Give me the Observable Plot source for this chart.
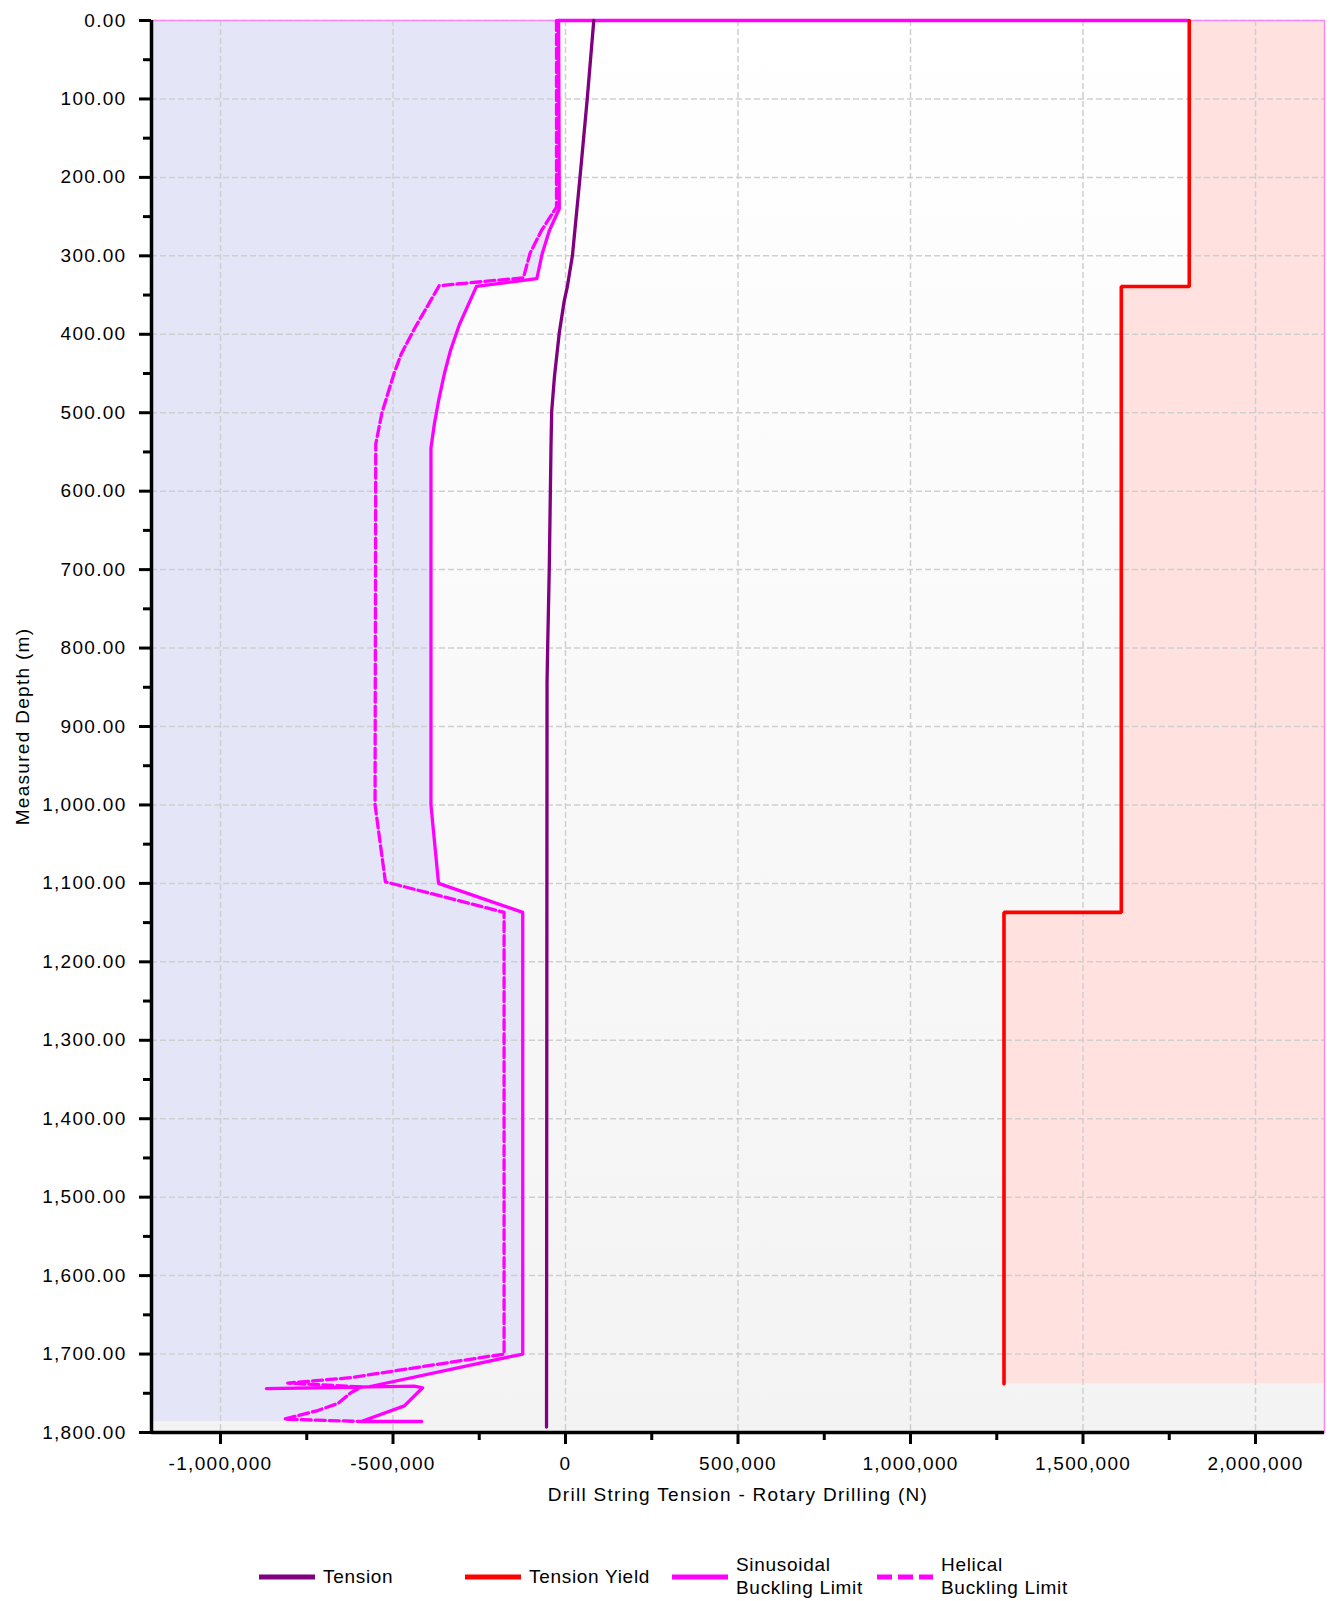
<!DOCTYPE html>
<html>
<head>
<meta charset="utf-8">
<script src="https://cdn.jsdelivr.net/npm/d3@7"></script>
<script src="https://cdn.jsdelivr.net/npm/@observablehq/plot@0.6"></script>
<style>
  html, body { margin: 0; padding: 0; background: #ffffff; }
  #chart { width: 1335px; }
  #legend { position: relative; width: 1335px; height: 81px; font-family: "Liberation Sans", Arial, sans-serif; font-size: 19px; letter-spacing: 0.7px; color: #000; }
  .sw { position: absolute; top: 52px; }
  .lt { position: absolute; line-height: 23px; white-space: nowrap; }
</style>
</head>
<body>
<div id="chart"></div>
<div id="legend"></div>
<script>
// ---- axis ranges & ticks ----
const xDomain = [-1200000, 2200000];
const yDomain = [0, 1800];
const xMajorTicks = [-1000000, -500000, 0, 500000, 1000000, 1500000, 2000000];
const xMinorTicks = [-750000, -250000, 250000, 750000, 1250000, 1750000];
const yMajorTicks = [0, 100, 200, 300, 400, 500, 600, 700, 800, 900, 1000, 1100, 1200, 1300, 1400, 1500, 1600, 1700, 1800];
const yMinorTicks = [50, 150, 250, 350, 450, 550, 650, 750, 850, 950, 1050, 1150, 1250, 1350, 1450, 1550, 1650, 1750];

// ---- series (measured depth in m, force in N) ----
const tensionDepth = [0, 100, 200, 300, 340, 357, 398, 454, 498, 542, 698, 795, 844, 1793];
const tensionForce = [82000, 63000, 42000, 20000, 5000, -3500, -18000, -32000, -40000, -42000, -47000, -51500, -53500, -55000];

const yieldDepth = [0, 339, 339, 1137, 1137, 1738];
const yieldForce = [1808000, 1808000, 1611000, 1611000, 1271000, 1271000];

const sinDepth = [0, 240, 268, 298, 329, 339, 387, 420, 450, 485, 514, 545, 1000, 1100, 1137, 1700, 1742, 1744, 1741, 1743, 1766, 1786, 1786];
const sinForce = [-20000, -18000, -47000, -68000, -83000, -258000, -307000, -333000, -351000, -368000, -380000, -390000, -390000, -368000, -124000, -124000, -573000, -867000, -438000, -414000, -467000, -592000, -417000];

const helDepth = [0, 238, 246, 268, 297, 328, 338, 393, 425, 450, 500, 540, 1000, 1098, 1137, 1700, 1730, 1737, 1742, 1749, 1763, 1772, 1783, 1786];
const helForce = [-26000, -26000, -38000, -70000, -103000, -122000, -366000, -438000, -476000, -497000, -532000, -550000, -552000, -522000, -178000, -178000, -621000, -805000, -592000, -621000, -660000, -718000, -815000, -592000];

const xLabel = "Drill String Tension - Rotary Drilling (N)";
const yLabel = "Measured Depth (m)";
const legendItems = [
  {name: "Tension", key: "tension"},
  {name: "Tension Yield", key: "yield"},
  {name: "Sinusoidal\nBuckling Limit", key: "sin"},
  {name: "Helical\nBuckling Limit", key: "hel"}
];

// ---- tables ----
const zip = (d, f) => d.map((v, i) => ({depth: v, force: f[i]}));
const tension = zip(tensionDepth, tensionForce);
const tYield = zip(yieldDepth, yieldForce);
const sinus = zip(sinDepth, sinForce);
const helical = zip(helDepth, helForce);

const fmtX = v => v.toLocaleString("en-US");
const fmtY = v => v.toLocaleString("en-US", {minimumFractionDigits: 2, maximumFractionDigits: 2});

const C = {tension: "#800080", yield: "#ff0000", sin: "#ff00ff", hel: "#ff00ff"};

const svg = Plot.plot({
  width: 1335,
  height: 1520,
  marginLeft: 151,
  marginRight: 11,
  marginTop: 20,
  marginBottom: 88,
  x: {domain: xDomain, label: null},
  y: {domain: yDomain, reverse: true, label: null},
  style: {fontFamily: "'Liberation Sans', Arial, sans-serif", fontSize: "19px", letterSpacing: "1.3px", background: "#ffffff", color: "#000000", overflow: "visible"},
  marks: [
    Plot.frame({fill: "url(#bgGrad)"}),
    Plot.areaX(sinus, {y: "depth", x1: () => xDomain[0], x2: "force", fill: "#e5e5f8"}),
    Plot.areaX(tYield, {y: "depth", x1: "force", x2: () => xDomain[1], fill: "#ffe2e0"}),
    Plot.gridX({ticks: xMajorTicks, stroke: "#cfcfcf", strokeOpacity: 1, strokeWidth: 1.5, strokeDasharray: "6,3"}),
    Plot.gridY({ticks: yMajorTicks, stroke: "#cfcfcf", strokeOpacity: 1, strokeWidth: 1.5, strokeDasharray: "6,3"}),
    Plot.frame({stroke: "#f58af5", strokeWidth: 1.5}),
    Plot.ruleY([0], {x1: () => sinForce[0], x2: () => yieldForce[0], stroke: C.sin, strokeWidth: 3.3}),
    Plot.line(helical, {x: "force", y: "depth", stroke: C.hel, strokeWidth: 3.3, strokeDasharray: "10,4"}),
    Plot.line(sinus, {x: "force", y: "depth", stroke: C.sin, strokeWidth: 3.3}),
    Plot.line(tYield, {x: "force", y: "depth", stroke: C.yield, strokeWidth: 3.6, strokeLinejoin: "miter"}),
    Plot.line(tension, {x: "force", y: "depth", stroke: C.tension, strokeWidth: 3.3}),
    Plot.ruleX([xDomain[0]], {stroke: "#000", strokeWidth: 3.5}),
    Plot.ruleY([yDomain[1]], {stroke: "#000", strokeWidth: 3.5}),
    Plot.axisX({ticks: xMajorTicks, tickSize: 12, tickPadding: 12, tickFormat: fmtX, strokeWidth: 3, label: xLabel, labelAnchor: "center", labelOffset: 68, labelArrow: "none"}),
    Plot.axisX({ticks: xMinorTicks, tickSize: 8, tickFormat: () => "", strokeWidth: 3, label: null}),
    Plot.axisY({ticks: yMajorTicks, tickSize: 12, tickPadding: 13, tickFormat: fmtY, strokeWidth: 3, label: yLabel, labelAnchor: "center", labelOffset: 136, labelArrow: "none"}),
    Plot.axisY({ticks: yMinorTicks, tickSize: 8, tickFormat: () => "", strokeWidth: 3, label: null})
  ]
});

const ns = "http://www.w3.org/2000/svg";
const defs = document.createElementNS(ns, "defs");
defs.innerHTML = '<linearGradient id="bgGrad" x1="0" y1="0" x2="0" y2="1"><stop offset="0" stop-color="#ffffff"/><stop offset="1" stop-color="#f3f3f3"/></linearGradient>';
svg.insertBefore(defs, svg.firstChild);
document.getElementById("chart").appendChild(svg);

// ---- legend ----
const legend = document.getElementById("legend");
const swX = [259, 465, 672, 877];
legendItems.forEach((it, i) => {
  const s = document.createElementNS(ns, "svg");
  s.setAttribute("width", 56); s.setAttribute("height", 10);
  s.setAttribute("class", "sw");
  s.style.left = swX[i] + "px";
  const ln = document.createElementNS(ns, "line");
  ln.setAttribute("x1", 0); ln.setAttribute("x2", 56);
  ln.setAttribute("y1", 5); ln.setAttribute("y2", 5);
  ln.setAttribute("stroke", C[it.key]); ln.setAttribute("stroke-width", 5);
  if (it.key === "hel") ln.setAttribute("stroke-dasharray", "15,6");
  s.appendChild(ln);
  legend.appendChild(s);
  const t = document.createElement("div");
  t.className = "lt";
  const lines = it.name.split("\n");
  t.style.left = (swX[i] + 64) + "px";
  t.style.top = (lines.length === 1 ? 45 : 33) + "px";
  t.innerHTML = lines.join("<br>");
  legend.appendChild(t);
});
</script>
</body>
</html>
